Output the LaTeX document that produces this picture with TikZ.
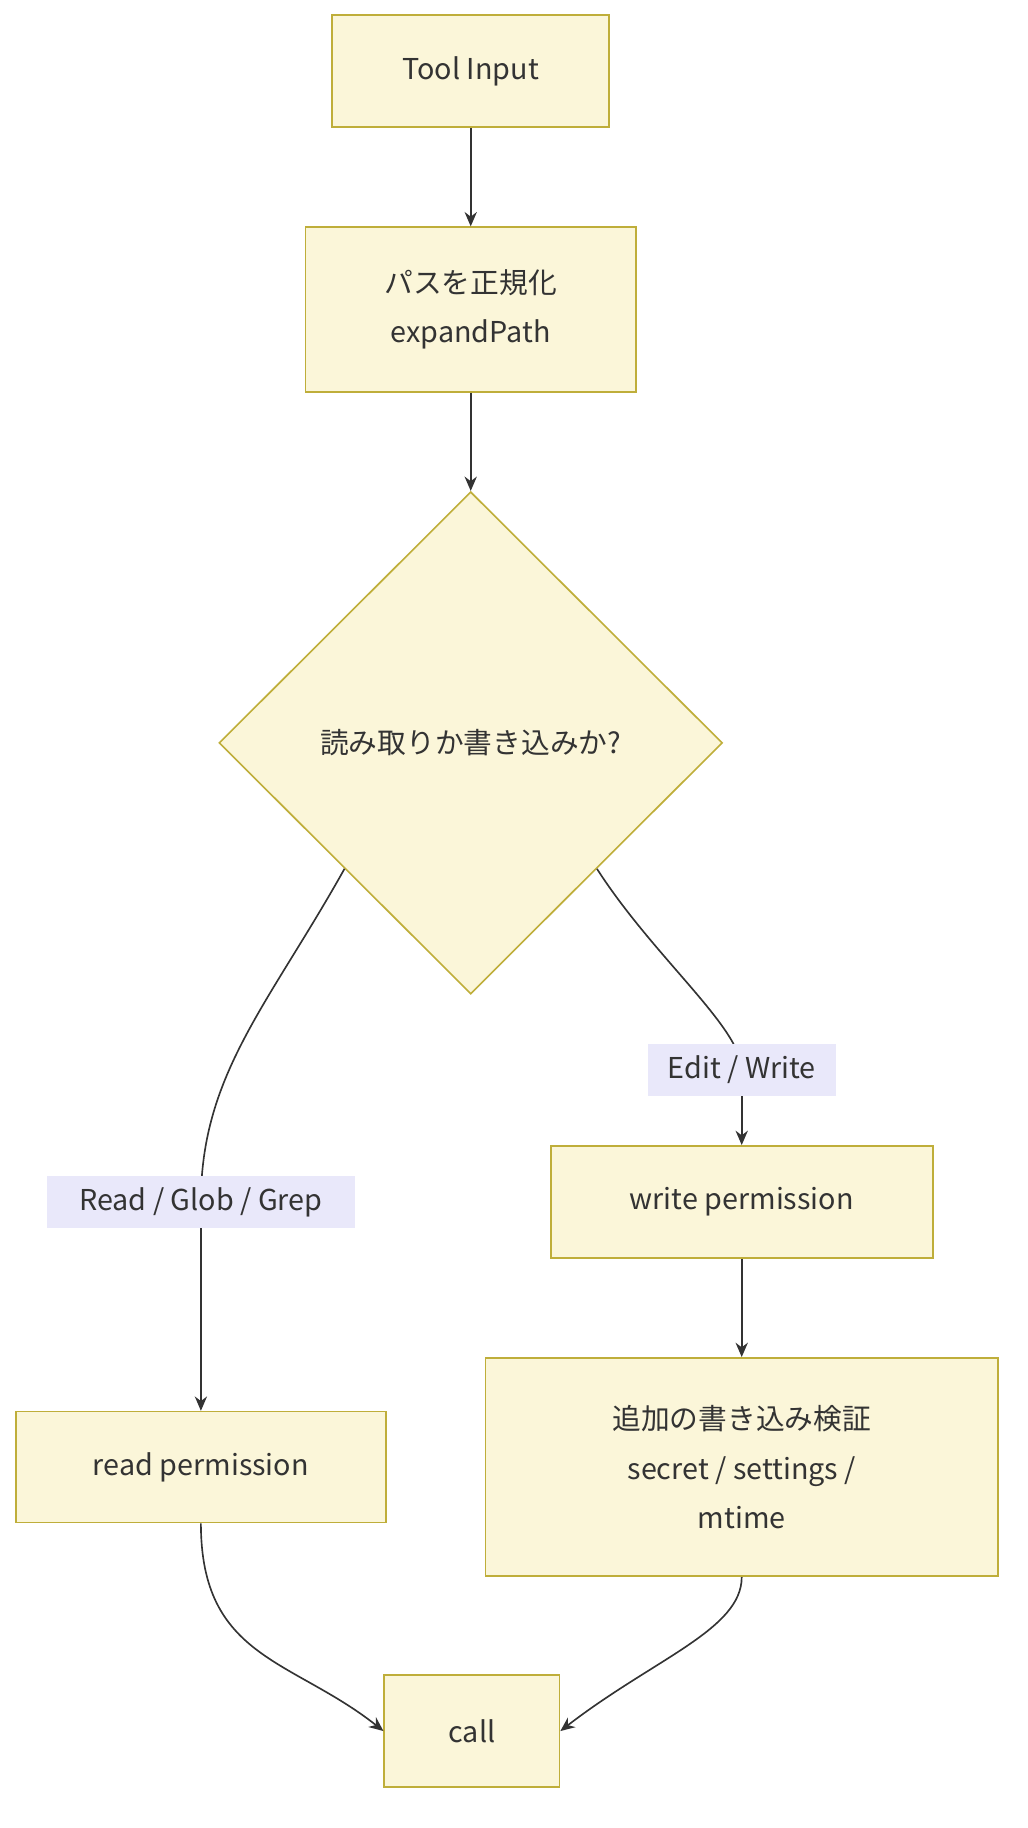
\documentclass[tikz,border=0pt]{standalone}
\usepackage{fontspec}
\setmainfont{Noto Sans CJK JP}
\usetikzlibrary{shapes.geometric,arrows.meta}
\definecolor{boxfill}{HTML}{FBF6D9}
\definecolor{boxline}{HTML}{BFAE3A}
\definecolor{labfill}{HTML}{E9E8FA}
\definecolor{ink}{HTML}{333333}
\tikzset{
  box/.style={draw=boxline,fill=boxfill,line width=0.8pt,align=center,text=ink,inner sep=0pt},
  lab/.style={fill=labfill,text=ink,inner sep=0pt},
  arr/.style={draw=ink,line width=0.8pt,-{Stealth[length=7pt,width=6pt]}},
  line/.style={draw=ink,line width=0.8pt}
}
\begin{document}
\begin{tikzpicture}[x=0.02cm,y=-0.02cm,font=\fontsize{14pt}{24pt}\selectfont]
	\useasboundingbox (0,0) rectangle (880,1565);
	% boxes
	\node[box,minimum width=237*0.02cm,minimum height=96*0.02cm] (input) at (403,61) {Tool Input};
	\node[box,minimum width=283*0.02cm,minimum height=141*0.02cm] (norm) at (403,265) {パスを正規化\\expandPath};
	\node[box,shape=diamond,minimum width=431*0.02cm,minimum height=430*0.02cm] (dia) at (403,636) {読み取りか書き込みか?};
	\node[box,minimum width=327*0.02cm,minimum height=96*0.02cm] (write) at (635,1029) {write permission};
	\node[box,minimum width=317*0.02cm,minimum height=95*0.02cm] (read) at (172,1256) {read permission};
	\node[box,minimum width=439*0.02cm,minimum height=187*0.02cm] (check) at (635,1256) {追加の書き込み検証\\secret / settings /\\mtime};
	\node[box,minimum width=150*0.02cm,minimum height=96*0.02cm] (call) at (404,1482) {call};
	% connectors
	\draw[arr] (input) -- (norm);
	\draw[arr] (norm) -- (dia.north);
	\coordinate (rl) at (172,1029);
	\coordinate (wl) at (635,916);
	\draw[line] (dia.south west) .. controls (230,860) and (172,920) .. (rl);
	\draw[arr] (rl) -- (read.north);
	\draw[line] (dia.south east) .. controls (560,820) and (635,880) .. (wl);
	\draw[arr] (wl) -- (write.north);
	\draw[arr] (write) -- (check);
	\draw[arr] (read.south) .. controls (172,1420) and (250,1420) .. (call.west);
	\draw[arr] (check.south) .. controls (635,1395) and (560,1420) .. (call.east);
	% edge labels
	\node[lab,minimum width=263*0.02cm,minimum height=45*0.02cm] (rlab) at (rl) {Read / Glob / Grep};
	\node[lab,minimum width=161*0.02cm,minimum height=44*0.02cm] (wlab) at (wl) {Edit / Write};
\end{tikzpicture}
\end{document}
